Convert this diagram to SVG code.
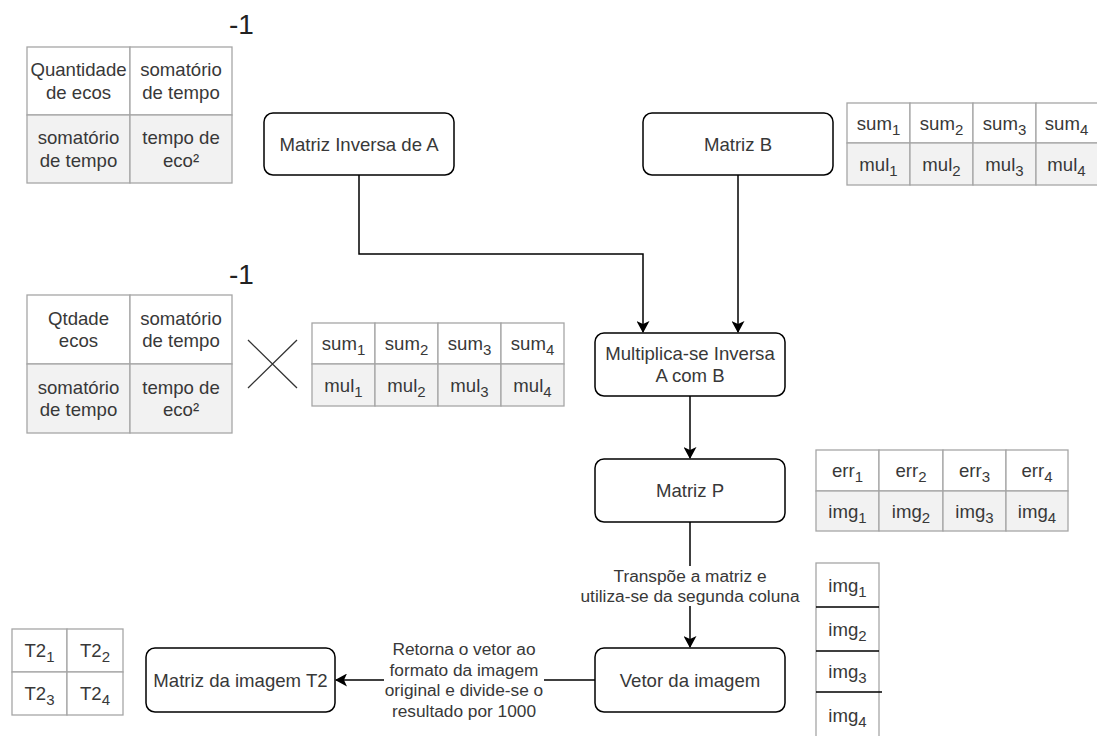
<svg xmlns="http://www.w3.org/2000/svg" width="1097" height="736" viewBox="0 0 1097 736">
<defs>
<style>
text{font-family:"Liberation Sans",Arial,sans-serif;fill:#383838;}
.t{font-size:18.6px;text-anchor:middle;}
.lb{font-size:17.3px;text-anchor:middle;}
.neg{font-size:28px;fill:#222;}
.sb{font-size:15px;}
.node{fill:#fff;stroke:#000;stroke-width:1.5;}
.cell{fill:#fff;stroke:#a6a6a6;stroke-width:1.3;}
.cellg{fill:#f2f2f2;stroke:#a6a6a6;stroke-width:1.3;}
.edge{fill:none;stroke:#000;stroke-width:1.5;}
</style>
<marker id="arr" viewBox="0 0 12 13" refX="11" refY="6.5" markerWidth="12" markerHeight="13" markerUnits="userSpaceOnUse" orient="auto">
<path d="M0,0 L12,6.5 L0,13 L3,6.5 Z" fill="#000"/>
</marker>
</defs>
<rect width="1097" height="736" fill="#fff"/>

<g id="connectors">
<path class="edge" d="M359,175 V254 H643 V332" marker-end="url(#arr)"/>
<path class="edge" d="M738,175 V332" marker-end="url(#arr)"/>
<path class="edge" d="M690,396 V458" marker-end="url(#arr)"/>
<path class="edge" d="M690,522 V647" marker-end="url(#arr)"/>
<path class="edge" d="M595,680 H336" marker-end="url(#arr)"/>
<rect x="582" y="566" width="216" height="40" fill="#fff"/>
<text class="lb" x="690" y="582">Transpõe a matriz e</text>
<text class="lb" x="690" y="602">utiliza-se da segunda coluna</text>
<rect x="384" y="638" width="160" height="84" fill="#fff"/>
<text class="lb" x="464" y="655">Retorna o vetor ao</text>
<text class="lb" x="464" y="675.7">formato da imagem</text>
<text class="lb" x="464" y="696.3">original e divide-se o</text>
<text class="lb" x="464" y="717">resultado por 1000</text>
</g>

<g id="table-inv-a">
<text class="neg" x="229" y="34">-1</text>
<rect class="cell" x="27" y="47" width="103" height="68"/>
<rect class="cell" x="130" y="47" width="102" height="68"/>
<rect class="cellg" x="27" y="115" width="103" height="68"/>
<rect class="cellg" x="130" y="115" width="102" height="68"/>
<text class="t" x="78.5" y="76.2">Quantidade</text>
<text class="t" x="78.5" y="98.8">de ecos</text>
<text class="t" x="181" y="76.2">somatório</text>
<text class="t" x="181" y="98.8">de tempo</text>
<text class="t" x="78.5" y="144.2">somatório</text>
<text class="t" x="78.5" y="166.8">de tempo</text>
<text class="t" x="181" y="144.2">tempo de</text>
<text class="t" x="181" y="166.8">eco²</text>
</g>

<g id="table-inv-a-2">
<text class="neg" x="229" y="284">-1</text>
<rect class="cell" x="27" y="295" width="103" height="69"/>
<rect class="cell" x="130" y="295" width="102" height="69"/>
<rect class="cellg" x="27" y="364" width="103" height="69"/>
<rect class="cellg" x="130" y="364" width="102" height="69"/>
<text class="t" x="78.5" y="324.7">Qtdade</text>
<text class="t" x="78.5" y="347.3">ecos</text>
<text class="t" x="181" y="324.7">somatório</text>
<text class="t" x="181" y="347.3">de tempo</text>
<text class="t" x="78.5" y="393.7">somatório</text>
<text class="t" x="78.5" y="416.3">de tempo</text>
<text class="t" x="181" y="393.7">tempo de</text>
<text class="t" x="181" y="416.3">eco²</text>
</g>

<g id="times">
<path d="M248,340 L297,388 M297,340 L248,388" fill="none" stroke="#333" stroke-width="1.3"/>
</g>

<g id="table-b-mid">
<rect class="cell" x="312" y="323" width="63" height="41"/>
<rect class="cell" x="375" y="323" width="63" height="41"/>
<rect class="cell" x="438" y="323" width="63" height="41"/>
<rect class="cell" x="501" y="323" width="63" height="41"/>
<rect class="cellg" x="312" y="364" width="63" height="42"/>
<rect class="cellg" x="375" y="364" width="63" height="42"/>
<rect class="cellg" x="438" y="364" width="63" height="42"/>
<rect class="cellg" x="501" y="364" width="63" height="42"/>
<text class="t" x="343.5" y="350">sum<tspan class="sb" dy="5">1</tspan></text>
<text class="t" x="406.5" y="350">sum<tspan class="sb" dy="5">2</tspan></text>
<text class="t" x="469.5" y="350">sum<tspan class="sb" dy="5">3</tspan></text>
<text class="t" x="532.5" y="350">sum<tspan class="sb" dy="5">4</tspan></text>
<text class="t" x="343.5" y="391.5">mul<tspan class="sb" dy="5">1</tspan></text>
<text class="t" x="406.5" y="391.5">mul<tspan class="sb" dy="5">2</tspan></text>
<text class="t" x="469.5" y="391.5">mul<tspan class="sb" dy="5">3</tspan></text>
<text class="t" x="532.5" y="391.5">mul<tspan class="sb" dy="5">4</tspan></text>
</g>

<g id="table-b-top">
<rect class="cell" x="847" y="103" width="63" height="40"/>
<rect class="cell" x="910" y="103" width="63" height="40"/>
<rect class="cell" x="973" y="103" width="63" height="40"/>
<rect class="cell" x="1036" y="103" width="62" height="40"/>
<rect class="cellg" x="847" y="143" width="63" height="42"/>
<rect class="cellg" x="910" y="143" width="63" height="42"/>
<rect class="cellg" x="973" y="143" width="63" height="42"/>
<rect class="cellg" x="1036" y="143" width="62" height="42"/>
<text class="t" x="878.5" y="129.5">sum<tspan class="sb" dy="5">1</tspan></text>
<text class="t" x="941.5" y="129.5">sum<tspan class="sb" dy="5">2</tspan></text>
<text class="t" x="1004.5" y="129.5">sum<tspan class="sb" dy="5">3</tspan></text>
<text class="t" x="1066.5" y="129.5">sum<tspan class="sb" dy="5">4</tspan></text>
<text class="t" x="878.5" y="170.5">mul<tspan class="sb" dy="5">1</tspan></text>
<text class="t" x="941.5" y="170.5">mul<tspan class="sb" dy="5">2</tspan></text>
<text class="t" x="1004.5" y="170.5">mul<tspan class="sb" dy="5">3</tspan></text>
<text class="t" x="1066.5" y="170.5">mul<tspan class="sb" dy="5">4</tspan></text>
</g>

<g id="table-p">
<rect class="cell" x="816" y="450" width="63" height="41"/>
<rect class="cell" x="879" y="450" width="64" height="41"/>
<rect class="cell" x="943" y="450" width="63" height="41"/>
<rect class="cell" x="1006" y="450" width="62" height="41"/>
<rect class="cellg" x="816" y="491" width="63" height="40"/>
<rect class="cellg" x="879" y="491" width="64" height="40"/>
<rect class="cellg" x="943" y="491" width="63" height="40"/>
<rect class="cellg" x="1006" y="491" width="62" height="40"/>
<text class="t" x="847.5" y="477">err<tspan class="sb" dy="5">1</tspan></text>
<text class="t" x="911" y="477">err<tspan class="sb" dy="5">2</tspan></text>
<text class="t" x="974.5" y="477">err<tspan class="sb" dy="5">3</tspan></text>
<text class="t" x="1037" y="477">err<tspan class="sb" dy="5">4</tspan></text>
<text class="t" x="847.5" y="517.5">img<tspan class="sb" dy="5">1</tspan></text>
<text class="t" x="911" y="517.5">img<tspan class="sb" dy="5">2</tspan></text>
<text class="t" x="974.5" y="517.5">img<tspan class="sb" dy="5">3</tspan></text>
<text class="t" x="1037" y="517.5">img<tspan class="sb" dy="5">4</tspan></text>
</g>

<g id="vector-img">
<rect class="cell" x="816" y="563" width="63" height="180"/>
<path d="M816,607 H879 M816,651 H879 M816,692 H882" fill="none" stroke="#000" stroke-width="1.5"/>
<text class="t" x="847.5" y="591.5">img<tspan class="sb" dy="5">1</tspan></text>
<text class="t" x="847.5" y="635.5">img<tspan class="sb" dy="5">2</tspan></text>
<text class="t" x="847.5" y="678">img<tspan class="sb" dy="5">3</tspan></text>
<text class="t" x="847.5" y="721.5">img<tspan class="sb" dy="5">4</tspan></text>
</g>

<g id="table-t2">
<rect class="cell" x="12" y="629" width="55" height="43"/>
<rect class="cell" x="67" y="629" width="56" height="43"/>
<rect class="cell" x="12" y="672" width="55" height="43"/>
<rect class="cell" x="67" y="672" width="56" height="43"/>
<text class="t" x="39.5" y="657">T2<tspan class="sb" dy="5">1</tspan></text>
<text class="t" x="95" y="657">T2<tspan class="sb" dy="5">2</tspan></text>
<text class="t" x="39.5" y="700">T2<tspan class="sb" dy="5">3</tspan></text>
<text class="t" x="95" y="700">T2<tspan class="sb" dy="5">4</tspan></text>
</g>

<g id="node-inversa">
<rect class="node" x="264" y="113" width="190" height="62" rx="9"/>
<text class="t" x="359" y="150.5">Matriz Inversa de A</text>
</g>
<g id="node-b">
<rect class="node" x="643" y="113" width="190" height="62" rx="9"/>
<text class="t" x="738" y="150.5">Matriz B</text>
</g>
<g id="node-mult">
<rect class="node" x="595" y="333" width="190" height="63" rx="9"/>
<text class="t" x="690" y="359.7">Multiplica-se Inversa</text>
<text class="t" x="690" y="382.3">A com B</text>
</g>
<g id="node-p">
<rect class="node" x="595" y="459" width="190" height="63" rx="9"/>
<text class="t" x="690" y="497">Matriz P</text>
</g>
<g id="node-vetor">
<rect class="node" x="595" y="648" width="190" height="64" rx="9"/>
<text class="t" x="690" y="686.5">Vetor da imagem</text>
</g>
<g id="node-t2">
<rect class="node" x="146" y="648" width="189" height="64" rx="9"/>
<text class="t" x="240.5" y="686.5">Matriz da imagem T2</text>
</g>
</svg>
